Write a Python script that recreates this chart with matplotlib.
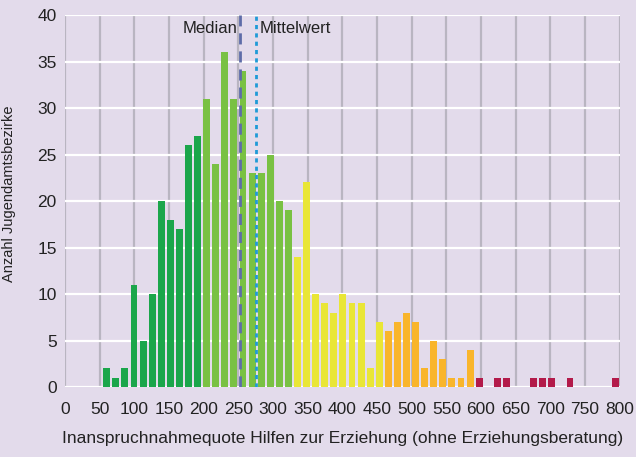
import numpy as np
import matplotlib
matplotlib.use("Agg")
from matplotlib import pyplot as plt

# -- data --
counts = [2, 1, 2, 11, 5, 10, 20, 18, 17, 26, 27,
          31, 24, 36, 31, 34, 23, 23, 25, 20, 19,
          14, 22, 10, 9, 8, 10, 9, 9, 2, 7,
          6, 7, 8, 7, 2, 5, 3, 1, 1, 4,
          1, 0, 1, 1, 0, 0, 1, 1, 1, 0, 1, 0, 0, 0, 0, 1]
groups = [0] * 11 + [1] * 10 + [2] * 10 + [3] * 10 + [4] * 16
group_colors = ["#1ba64b", "#79c143", "#e9e636", "#f9b52b", "#b31a4a"]
median = 253
mean = 276
x_ticks = list(range(0, 801, 50))
y_ticks = list(range(0, 41, 5))

bin_start = 55.2
bin_step = 13.1

plt.rcParams['font.family'] = ['Liberation Sans', 'DejaVu Sans']

fig = plt.figure(figsize=(6.36, 4.57), dpi=100)
bg = "#e3dbeb"
fig.patch.set_facecolor(bg)
ax = fig.add_axes([0.1022, 0.153, 0.8722, 0.814])
ax.set_facecolor(bg)

x = bin_start + np.arange(len(counts)) * bin_step
colors = [group_colors[g] for g in groups]
ax.bar(x, counts, width=10, align='edge', color=colors, zorder=3)

# -- median / mean --
ax.vlines(median, 0, 40, colors="#5e6ca8", linestyles=(0, (4, 2.5)), lw=2, zorder=4)
ax.vlines(mean, 0, 40, colors="#1f9bd7", linestyles=(0, (1.5, 1.5)), lw=2, zorder=4)
ax.text(median - 4, 38.6, "Median", ha='right', va='center', fontsize=12, color="#222222")
ax.text(mean + 4, 38.6, "Mittelwert", ha='left', va='center', fontsize=12, color="#222222")

# -- grid --
for v in x_ticks:
    ax.axvline(v, color="#b9b5c1", lw=1.6, zorder=1)
for v in y_ticks:
    ax.axhline(v, color="white", lw=1.6, zorder=2)

ax.set_xlim(0, 800)
ax.set_ylim(0, 40)
ax.set_xticks(x_ticks)
ax.set_yticks(y_ticks)
ax.tick_params(length=0, labelsize=12.5, colors="#222222")
ax.tick_params(axis='x', pad=11)
ax.tick_params(axis='y', pad=6)
for s in ax.spines.values():
    s.set_visible(False)

ax.set_xlabel("Inanspruchnahmequote Hilfen zur Erziehung (ohne Erziehungsberatung)",
              fontsize=12.5, color="#222222", labelpad=10)
ax.set_ylabel("Anzahl Jugendamtsbezirke", fontsize=10.5, color="#222222")
ax.yaxis.set_label_coords(-0.088, 0.52)

fig.savefig("out.png", dpi=100, facecolor=bg)
